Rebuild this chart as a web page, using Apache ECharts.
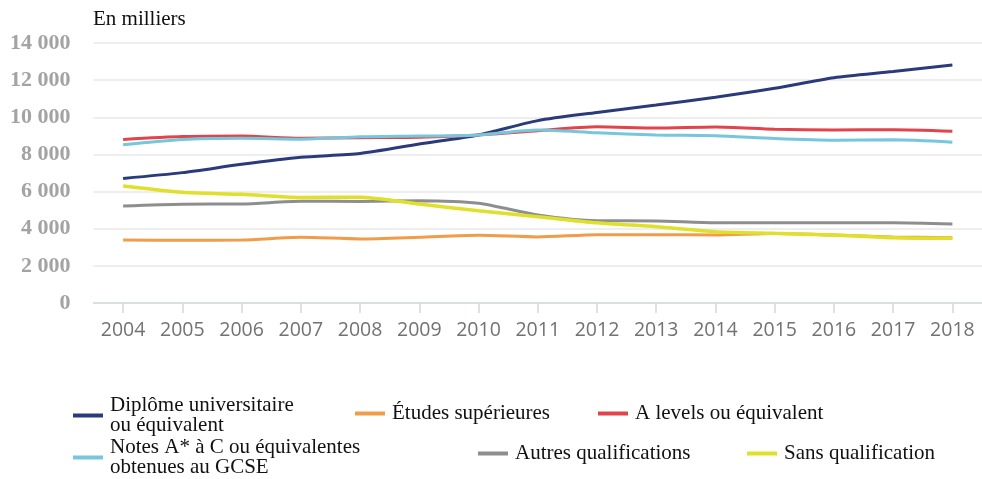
<!DOCTYPE html>
<html>
<head>
<meta charset="utf-8">
<script src="https://cdn.jsdelivr.net/npm/echarts@6/dist/echarts.min.js"></script>
<style>
  html, body { margin: 0; padding: 0; background: #ffffff; }
  #chart { width: 982px; height: 479px; }
</style>
</head>
<body>
<div id="chart"></div>
<script>
// Years on the horizontal axis
const years = ['2004', '2005', '2006', '2007', '2008', '2009', '2010', '2011', '2012', '2013', '2014', '2015', '2016', '2017', '2018'];

// Number of people (thousands) by highest qualification
const diplomeUniversitaire = [6710, 7020, 7470, 7850, 8050, 8560, 9050, 9820, 10260, 10660, 11080, 11560, 12130, 12460, 12820];
const etudesSuperieures    = [3390, 3380, 3390, 3540, 3450, 3540, 3650, 3560, 3680, 3680, 3660, 3740, 3660, 3560, 3520];
const aLevels              = [8810, 8960, 8990, 8870, 8900, 8930, 9050, 9280, 9490, 9420, 9480, 9360, 9320, 9330, 9250];
const notesGCSE            = [8520, 8810, 8870, 8820, 8950, 8990, 9050, 9320, 9170, 9050, 9010, 8860, 8770, 8790, 8660];
const autresQualifications = [5220, 5320, 5330, 5480, 5470, 5510, 5370, 4740, 4430, 4420, 4320, 4320, 4320, 4320, 4250];
const sansQualification    = [6300, 5960, 5850, 5680, 5700, 5330, 4970, 4650, 4320, 4110, 3840, 3750, 3660, 3520, 3480];

// Y-axis range and tick step
const yMin = 0, yMax = 14000, yStep = 2000;

const seriesDefs = [
  { name: 'Diplôme universitaire ou équivalent', label: 'Diplôme universitaire\nou équivalent', data: diplomeUniversitaire, color: '#2b3a7a' },
  { name: 'Études supérieures', label: 'Études supérieures', data: etudesSuperieures, color: '#f09c4a' },
  { name: 'A levels ou équivalent', label: 'A levels ou équivalent', data: aLevels, color: '#e2444c' },
  { name: 'Notes A* à C ou équivalentes obtenues au GCSE', label: 'Notes A* à C ou équivalentes\nobtenues au GCSE', data: notesGCSE, color: '#76c6dc' },
  { name: 'Autres qualifications', label: 'Autres qualifications', data: autresQualifications, color: '#8e8e8e' },
  { name: 'Sans qualification', label: 'Sans qualification', data: sansQualification, color: '#e0e02c' }
];

// Legend placement for each entry
const legendSpots = [
  { left: 73, top: 395 },
  { left: 355, top: 403 },
  { left: 598, top: 403 },
  { left: 73, top: 437 },
  { left: 478, top: 443 },
  { left: 747, top: 443 }
];

const labelFor = {};
seriesDefs.forEach(s => { labelFor[s.name] = s.label; });

const legends = seriesDefs.map((s, i) => ({
  data: [s.name],
  left: legendSpots[i].left,
  top: legendSpots[i].top,
  orient: 'horizontal',
  icon: 'rect',
  itemWidth: 30,
  itemHeight: 4,
  padding: 0,
  selectedMode: false,
  formatter: name => labelFor[name],
  textStyle: {
    fontFamily: 'Liberation Serif',
    fontSize: 21,
    lineHeight: 20,
    color: '#111111',
    padding: [0, 0, 0, 2]
  }
}));

function fmtThousands(v) {
  return String(v).replace(/\B(?=(\d{3})+(?!\d))/g, ' ');
}

const chart = echarts.init(document.getElementById('chart'), null, { renderer: 'canvas' });

chart.setOption({
  backgroundColor: '#ffffff',
  animation: false,
  graphic: [{
    type: 'text',
    left: 93,
    top: 9,
    style: {
      text: 'En milliers',
      fontFamily: 'Liberation Serif',
      fontSize: 21,
      fill: '#111111'
    }
  }],
  legend: legends,
  grid: { left: 93.5, right: -4.5, top: 43, bottom: 176, containLabel: false },
  xAxis: {
    type: 'category',
    data: years,
    boundaryGap: true,
    axisLine: { show: true, lineStyle: { color: '#d3d7de', width: 1.5 } },
    axisTick: { show: true, alignWithLabel: true, length: 10, lineStyle: { color: '#d3d7de', width: 1.5 } },
    axisLabel: {
      margin: 17,
      fontFamily: 'Open Sans',
      fontSize: 19.5,
      color: '#727272'
    },
    splitLine: { show: false }
  },
  yAxis: {
    type: 'value',
    min: yMin,
    max: yMax,
    interval: yStep,
    axisLine: { show: false },
    axisTick: { show: false },
    axisLabel: {
      margin: 23,
      fontFamily: 'Liberation Serif',
      fontWeight: 'bold',
      fontSize: 22,
      color: '#a3a3a3',
      formatter: v => fmtThousands(v)
    },
    splitLine: { show: true, lineStyle: { color: '#e8e8e8', width: 1.5 } }
  },
  series: seriesDefs.map(s => ({
    name: s.name,
    type: 'line',
    data: s.data,
    smooth: 0.25,
    symbol: 'none',
    color: s.color,
    lineStyle: { color: s.color, width: s.name === 'Sans qualification' ? 3.5 : 3 },
    itemStyle: { color: s.color }
  }))
});
</script>
</body>
</html>
